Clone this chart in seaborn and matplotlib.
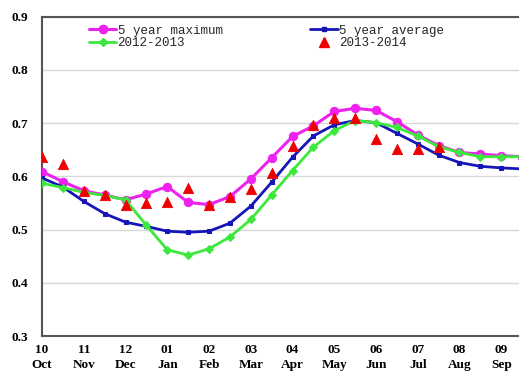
import numpy as np
import pandas as pd
import matplotlib
matplotlib.use("Agg")
import matplotlib.pyplot as plt
import seaborn as sns
from matplotlib.lines import Line2D
from matplotlib.ticker import MultipleLocator

sns.set_style("white")

# Data (half-month steps, Oct -> Sep)
month_nums = ["10", "11", "12", "01", "02", "03", "04", "05", "06", "07", "08", "09"]
month_names = ["Oct", "Nov", "Dec", "Jan", "Feb", "Mar", "Apr", "May", "Jun", "Jul", "Aug", "Sep"]

max5 = [0.609, 0.590, 0.573, 0.565, 0.556, 0.567, 0.581, 0.551, 0.547, 0.562, 0.595, 0.635,
        0.675, 0.695, 0.722, 0.728, 0.724, 0.703, 0.678, 0.658, 0.645, 0.642, 0.639, 0.637]
avg5 = [0.597, 0.580, 0.553, 0.530, 0.514, 0.506, 0.497, 0.495, 0.497, 0.512, 0.544, 0.589,
        0.636, 0.676, 0.697, 0.705, 0.701, 0.681, 0.661, 0.640, 0.626, 0.619, 0.616, 0.614]
y1213 = [0.587, 0.579, 0.570, 0.564, 0.556, 0.508, 0.462, 0.452, 0.464, 0.486, 0.519, 0.565,
         0.611, 0.655, 0.686, 0.705, 0.701, 0.692, 0.676, 0.656, 0.645, 0.637, 0.637, 0.637]
y1314 = [0.637, 0.624, 0.572, 0.565, 0.547, 0.550, 0.551, 0.578, 0.547, 0.562, 0.577, 0.607,
         0.658, 0.697, 0.709, 0.709, 0.670, 0.651, 0.651, 0.656]

x = np.arange(len(max5))
df = pd.DataFrame({"x": x, "max5": max5, "avg5": avg5, "y1213": y1213})
df14 = pd.DataFrame({"x": np.arange(len(y1314)), "y1314": y1314})

fig = plt.figure(figsize=(5.19, 3.74), dpi=100)
ax = fig.add_axes([0.081, 0.1016, 0.925, 0.8535])

c_max, c_avg, c_12, c_13 = "#ee22ee", "#1515b8", "#3be83b", "#ee0000"

sns.lineplot(data=df, x="x", y="max5", color=c_max, lw=2.2, marker="o", markersize=6,
             markeredgecolor=c_max, ax=ax, zorder=3)
sns.lineplot(data=df, x="x", y="avg5", color=c_avg, lw=2.0, marker="s", markersize=3,
             markeredgecolor=c_avg, ax=ax, zorder=4)
sns.lineplot(data=df, x="x", y="y1213", color=c_12, lw=2.0, marker="D", markersize=4,
             markeredgecolor=c_12, ax=ax, zorder=5)
sns.scatterplot(data=df14, x="x", y="y1314", color=c_13, marker="^", s=55,
                edgecolor=c_13, ax=ax, zorder=6)

ax.set_xlim(0, 23)
ax.set_ylim(0.3, 0.9)
ax.set_xlabel("")
ax.set_ylabel("")

ax.set_xticks(np.arange(0, 24, 2))
ax.set_xticklabels([f"{a}\n{b}" for a, b in zip(month_nums, month_names)])
ax.xaxis.set_minor_locator(MultipleLocator(1))
ax.set_yticks(np.arange(0.3, 0.91, 0.1))
ax.set_yticklabels([f"{v:.1f}" for v in np.arange(0.3, 0.91, 0.1)])
ax.yaxis.set_minor_locator(MultipleLocator(0.05))

for lab in ax.get_xticklabels() + ax.get_yticklabels():
    lab.set_family("Liberation Serif")
    lab.set_fontweight("bold")
    lab.set_fontsize(9.5)
    lab.set_linespacing(1.25)

ax.tick_params(axis="both", which="both", direction="in", colors="#555555",
               labelcolor="black")
ax.tick_params(axis="both", which="major", length=4, width=1)
ax.tick_params(axis="both", which="minor", length=3, width=1)
ax.tick_params(axis="x", pad=6)
ax.tick_params(axis="y", pad=10)

ax.grid(axis="y", color="#d8d8d8", lw=1)
for side in ["left", "bottom", "top"]:
    ax.spines[side].set_color("#555555")
    ax.spines[side].set_linewidth(1.5)
ax.spines["right"].set_visible(False)

handles = [
    Line2D([], [], color=c_max, lw=2.2, marker="o", markersize=6),
    Line2D([], [], color=c_12, lw=2.0, marker="D", markersize=4),
    Line2D([], [], color=c_avg, lw=2.0, marker="s", markersize=3),
    Line2D([], [], color=c_13, lw=0, marker="^", markersize=7),
]
labels = ["5 year maximum", "2012-2013", "5 year average", "2013-2014"]
ax.legend(handles, labels, ncol=2, frameon=False, loc="upper left",
          bbox_to_anchor=(80 / 519, 1 - 16 / 374), bbox_transform=fig.transFigure,
          prop={"family": "Liberation Mono", "size": 9},
          handlelength=2.2, handletextpad=0.1, labelspacing=0.05,
          columnspacing=7.0, borderpad=0.2)

fig.savefig("out.png", dpi=100)
